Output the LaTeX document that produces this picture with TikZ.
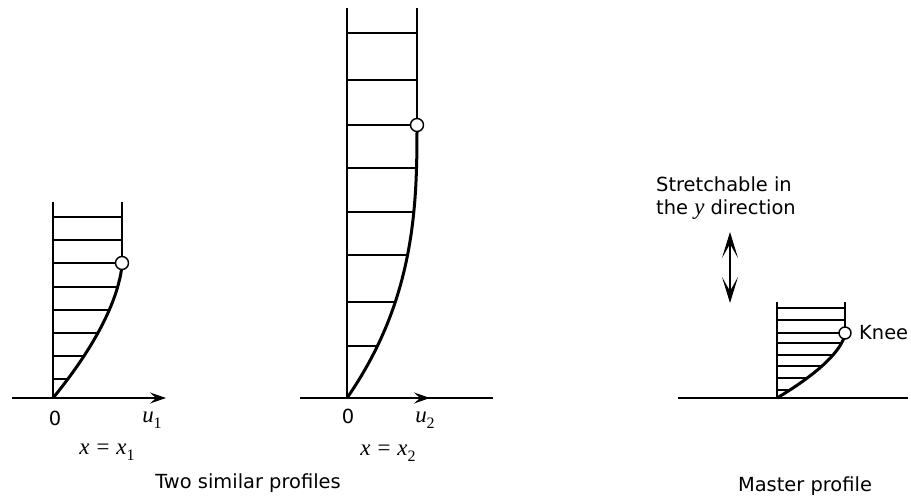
\documentclass[tikz,border=0pt]{standalone}
\usepackage{fontspec}
\setmainfont{DejaVu Sans}
\newfontfamily\mser{Liberation Serif}
\newcommand\mv[1]{{\mser\itshape\fontsize{23}{25}\selectfont #1}}
\newcommand\sbs[1]{\raisebox{-0.3em}{\mser\fontsize{16}{17}\selectfont #1}}
\newcommand\meq{{\mser\fontsize{23}{25}\selectfont =}}
\usetikzlibrary{arrows.meta}
\begin{document}
\begin{tikzpicture}[x=1bp,y=-1bp,
  wall/.style={line width=2.8bp},
  rung/.style={line width=1.8bp},
  prof/.style={line width=3bp, line join=round},
  axis/.style={line width=1.7bp},
  knee/.style={circle, draw, line width=1.4bp, fill=white, minimum size=13bp, inner sep=0pt},
  lbl/.style={font=\fontsize{19.5}{23}\selectfont, inner sep=0pt},
  tip/.style={arrows={-Stealth[length=16bp,width=11bp,inset=6bp]}},
  dbl/.style={line width=2.2bp, arrows={Stealth[length=26bp,width=16bp,inset=14bp]-Stealth[length=26bp,width=16bp,inset=14bp]}}]
\path[use as bounding box] (0,0) rectangle (911,496);

% ---------- profile 1 ----------
\draw[axis,tip] (12,398) -- (166,398);
\foreach \y in {217, 240, 263} \draw[rung] (53,\y) -- (122,\y);
\foreach \y in {287, 310, 333, 356, 379} {
  \pgfmathsetmacro\xe{53+69*(1-(1-(398-\y)/135)^1.6)}
  \draw[rung] (53,\y) -- (\xe,\y);
}
\draw[wall] (53,202) -- (53,398);
\draw[wall] (122,202) -- (122,263);
\draw[prof] plot[domain=0:0.99, samples=60] ({53+69*(1-(1-\x)^1.6)}, {398-135*\x}) -- (122,263);
\node[knee] (k1) at (122,263) {};
\node[lbl] (z1) at (55,418) {0};
\node[lbl] (u1) at (152,420) {\mv{u}\sbs{1}};
\node[lbl] (x1) at (107,452) {\mv{x}\hspace*{7bp}\meq\hspace*{7bp}\mv{x}\sbs{1}};

% ---------- profile 2 ----------
\draw[axis] (300,398) -- (493,398);
\draw[axis,tip] (347,398) -- (430,398);
\foreach \y in {33, 80, 125} \draw[rung] (347,\y) -- (417,\y);
\foreach \y in {168, 212, 255, 302, 346} {
  \pgfmathsetmacro\xe{347+70*(1-(1-(398-\y)/273)^2.7)}
  \draw[rung] (347,\y) -- (\xe,\y);
}
\draw[wall] (347,8) -- (347,398);
\draw[wall] (417,8) -- (417,125);
\draw[prof] plot[domain=0:0.99, samples=80] ({347+70*(1-(1-\x)^2.7)}, {398-273*\x}) -- (417,125);
\node[knee] (k2) at (417,125) {};
\node[lbl] (z2) at (348,416) {0};
\node[lbl] (u2) at (425,420) {\mv{u}\sbs{2}};
\node[lbl] (x2) at (388,453) {\mv{x}\hspace*{7bp}\meq\hspace*{7bp}\mv{x}\sbs{2}};

\node[lbl, anchor=base] (c1) at (248,488) {Two similar profiles};

% ---------- master profile ----------
\draw[axis] (678,398) -- (908,398);
\foreach \y in {308, 320, 333} \draw[rung] (777,\y) -- (845,\y);
\foreach \y in {343, 355, 366, 378, 390} {
  \pgfmathsetmacro\xe{777+68*(1-(1-(398-\y)/65)^1.6)}
  \draw[rung] (777,\y) -- (\xe,\y);
}
\draw[wall] (777,302) -- (777,398);
\draw[wall] (845,302) -- (845,333);
\draw[prof] plot[domain=0:0.99, samples=40] ({777+68*(1-(1-\x)^1.6)}, {398-65*\x}) -- (845,333);
\node[knee, minimum size=12bp] (k3) at (845,333) {};
\node[lbl, anchor=west] (kn) at (859,333) {Knee};

\coordinate (atop) at (730,232);
\coordinate (abot) at (730,303);
\draw[dbl] (atop) -- (abot);
\node[lbl, anchor=base west] (s1) at (656,192) {Stretchable in};
\node[lbl, anchor=base west] (s2) at (656,215) {the \mv{y} direction};

\node[lbl, anchor=base] (c2) at (805,491) {Master profile};
\end{tikzpicture}
\end{document}
